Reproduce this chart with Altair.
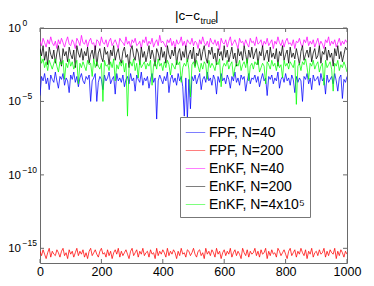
import altair as alt
import pandas as pd

# ---------------- data (log10 in tenths of a decade) ----------------
series_names = ["FPF, N=40", "FPF, N=200", "EnKF, N=40", "EnKF, N=200", "EnKF, N=4x10⁵"]
series_colors = ["#0000ff", "#ff0000", "#ff00ff", "#000000", "#00ff00"]

x_values = list(range(0, 1001, 5))

fpf40 = [
    -46, -33, -36, -31, -38, -34, -42, -32, -35, -37,
    -30, -36, -41, -33, -35, -31, -39, -34, -36, -44,
    -32, -35, -30, -37, -33, -40, -34, -31, -36, -38,
    -33, -35, -32, -50, -36, -34, -31, -50, -37, -33,
    -35, -42, -32, -36, -34, -30, -38, -35, -33, -45,
    -31, -36, -34, -37, -32, -40, -35, -33, -38, -31,
    -36, -34, -43, -32, -35, -37, -30, -39, -34, -36,
    -33, -41, -35, -31, -37, -34, -62, -36, -32, -35,
    -38, -33, -36, -30, -44, -35, -32, -37, -34, -39,
    -31, -36, -33, -40, -60, -34, -62, -35, -55, -33,
    -36, -32, -38, -34, -31, -42, -35, -33, -37, -30,
    -36, -34, -39, -32, -35, -45, -33, -37, -31, -36,
    -34, -38, -32, -35, -41, -33, -36, -30, -37, -34,
    -39, -32, -35, -33, -43, -36, -31, -38, -34, -35,
    -32, -37, -33, -40, -35, -31, -36, -34, -46, -33,
    -35, -32, -38, -34, -36, -30, -41, -35, -33, -37,
    -31, -36, -34, -39, -32, -35, -44, -33, -37, -34,
    -36, -50, -33, -35, -31, -38, -34, -42, -32, -36,
    -35, -33, -39, -31, -36, -34, -45, -32, -37, -35,
    -33, -38, -31, -36, -43, -34, -32, -48, -35, -37,
    -33,
]

fpf200 = [
    -152, -155, -151, -154, -157, -153, -150, -156, -152, -154,
    -155, -151, -153, -156, -152, -150, -155, -153, -157, -151,
    -154, -152, -156, -153, -150, -155, -152, -154, -151, -156,
    -153, -157, -152, -150, -155, -153, -151, -154, -156, -152,
    -150, -154, -153, -156, -151, -155, -152, -157, -153, -151,
    -154, -150, -156, -152, -155, -153, -151, -154, -157, -152,
    -150, -155, -153, -151, -156, -152, -154, -150, -155, -153,
    -152, -156, -151, -154, -153, -157, -150, -155, -152, -154,
    -151, -153, -156, -150, -155, -152, -154, -151, -153, -157,
    -152, -155, -150, -154, -153, -156, -151, -152, -155, -153,
    -150, -154, -156, -152, -151, -155, -153, -157, -150, -154,
    -152, -155, -151, -153, -156, -150, -154, -152, -157, -153,
    -151, -155, -152, -154, -150, -156, -153, -151, -155, -152,
    -154, -157, -150, -153, -155, -151, -156, -152, -154, -153,
    -150, -155, -152, -156, -151, -154, -153, -150, -157, -152,
    -155, -151, -154, -153, -156, -150, -152, -155, -153, -151,
    -154, -157, -152, -150, -155, -153, -151, -156, -152, -154,
    -150, -153, -155, -151, -157, -152, -154, -150, -156, -153,
    -152, -155, -151, -154, -153, -150, -156, -152, -155, -151,
    -153, -154, -150, -157, -152, -155, -151, -153, -156, -152,
    -154,
]

enkf40 = [
    -9, -12, -7, -10, -13, -8, -11, -6, -10, -12,
    -9, -14, -8, -11, -7, -10, -13, -9, -6, -11,
    -12, -8, -10, -14, -7, -9, -12, -5, -10, -11,
    -8, -13, -9, -7, -11, -10, -15, -8, -9, -12,
    -6, -10, -11, -8, -13, -9, -7, -12, -10, -8,
    -11, -14, -7, -9, -10, -12, -6, -11, -9, -13,
    -8, -10, -7, -12, -11, -9, -14, -8, -10, -6,
    -12, -9, -11, -7, -13, -10, -8, -12, -5, -10,
    -9, -11, -13, -8, -10, -7, -12, -9, -14, -8,
    -11, -10, -6, -12, -9, -13, -8, -10, -11, -7,
    -12, -9, -10, -14, -8, -11, -6, -10, -12, -9,
    -13, -7, -10, -11, -8, -12, -9, -15, -7, -10,
    -11, -8, -13, -9, -6, -12, -10, -8, -11, -14,
    -7, -10, -9, -12, -8, -11, -13, -7, -10, -9,
    -12, -6, -11, -10, -8, -13, -9, -11, -7, -12,
    -10, -8, -14, -9, -11, -6, -10, -12, -8, -13,
    -9, -7, -11, -10, -12, -8, -14, -9, -10, -7,
    -11, -13, -8, -10, -6, -12, -9, -11, -8, -13,
    -10, -7, -12, -9, -11, -14, -8, -10, -6, -12,
    -9, -11, -8, -13, -10, -7, -12, -9, -11, -8,
    -10,
]

enkf200 = [
    -14, -19, -12, -22, -16, -25, -13, -18, -21, -15,
    -24, -17, -12, -20, -26, -14, -19, -16, -23, -13,
    -18, -21, -15, -27, -12, -17, -20, -14, -22, -16,
    -19, -13, -24, -18, -15, -21, -12, -26, -17, -14,
    -20, -23, -13, -18, -16, -25, -15, -19, -12, -22,
    -17, -14, -21, -24, -16, -13, -20, -18, -27, -15,
    -12, -19, -22, -14, -17, -25, -13, -20, -16, -23,
    -18, -12, -21, -15, -19, -26, -14, -17, -22, -13,
    -20, -16, -24, -12, -18, -21, -15, -19, -13, -25,
    -17, -14, -22, -16, -20, -12, -23, -18, -15, -21,
    -13, -26, -17, -19, -14, -22, -16, -12, -20, -24,
    -15, -18, -13, -21, -17, -25, -14, -19, -16, -22,
    -12, -20, -15, -23, -18, -13, -21, -17, -26, -14,
    -19, -16, -22, -12, -18, -24, -15, -20, -13, -21,
    -17, -14, -25, -16, -19, -12, -22, -18, -15, -23,
    -13, -20, -17, -21, -14, -26, -16, -19, -12, -22,
    -18, -15, -24, -13, -20, -17, -21, -14, -19, -25,
    -16, -12, -22, -18, -15, -20, -13, -23, -17, -14,
    -21, -19, -12, -24, -16, -18, -13, -22, -15, -20,
    -17, -26, -14, -19, -12, -21, -16, -23, -18, -13,
    -15,
]

enkf4e5 = [
    -18, -24, -21, -27, -23, -29, -22, -25, -28, -24,
    -21, -26, -30, -23, -25, -22, -35, -24, -27, -21,
    -26, -23, -28, -25, -22, -38, -24, -27, -23, -26,
    -29, -22, -25, -24, -33, -21, -27, -23, -26, -28,
    -24, -50, -22, -26, -25, -29, -23, -27, -21, -36,
    -25, -28, -23, -26, -22, -30, -24, -60, -27, -23,
    -26, -21, -29, -24, -34, -22, -27, -25, -23, -28,
    -24, -26, -22, -39, -25, -23, -28, -21, -26, -24,
    -29, -23, -27, -22, -25, -32, -24, -26, -28, -22,
    -25, -23, -37, -27, -24, -26, -21, -28, -47, -25,
    -23, -27, -22, -26, -30, -24, -28, -23, -25, -35,
    -22, -27, -24, -26, -29, -23, -25, -21, -40, -27,
    -24, -26, -22, -28, -25, -23, -33, -27, -24, -26,
    -22, -29, -25, -23, -27, -21, -36, -26, -24, -28,
    -23, -25, -22, -30, -27, -24, -26, -38, -23, -25,
    -28, -22, -26, -24, -29, -23, -27, -25, -34, -22,
    -26, -24, -28, -23, -25, -27, -22, -52, -26, -24,
    -29, -23, -25, -21, -27, -35, -24, -26, -22, -28,
    -25, -23, -30, -26, -24, -39, -22, -27, -25, -23,
    -28, -43, -24, -26, -22, -29, -25, -27, -23, -26,
    -30,
]

x_tick_values = [0, 200, 400, 600, 800, 1000]
y_tick_values = [1e0, 1e-5, 1e-10, 1e-15]
y_tick_exponents = ["0", "−5", "−10", "−15"]
title_parts = ["|c−c", "true", "|"]

# ---------------- table ----------------
all_series = [fpf40, fpf200, enkf40, enkf200, enkf4e5]
rows = []
for name, vals in zip(series_names, all_series):
    for xv, t in zip(x_values, vals):
        rows.append({"x": xv, "value": 10 ** (t / 10.0), "series": name})
df = pd.DataFrame(rows)

W, H = 307, 235
FONT = "Liberation Sans"
FRAME = "#6a6a6a"

x_scale = alt.Scale(domain=[0, 1000], nice=False)
y_scale = alt.Scale(type="log", domain=[1e-16, 1], nice=False)
x_axis = alt.Axis(values=x_tick_values, format="d", ticks=False, domain=False, grid=False,
                  labelFontSize=12.5, labelFont=FONT, labelColor="black",
                  labelPadding=2, labelFlush=False, title=None)

color_enc = alt.Color(
    "series:N",
    scale=alt.Scale(domain=series_names, range=series_colors),
    legend=alt.Legend(orient="none", legendX=140, legendY=89, title=None,
                      symbolType="stroke", symbolSize=380, symbolStrokeWidth=1,
                      symbolOpacity=0.5,
                      labelFontSize=14, labelFont=FONT, labelColor="black",
                      labelLimit=300, labelOffset=3, padding=5, rowPadding=-0.5,
                      strokeColor="#777777", fillColor="white", symbolOffset=0),
)

base = alt.Chart(df)
lines = [
    base.transform_filter(alt.datum.series == name)
    .mark_line(strokeWidth=0.75, clip=True)
    .encode(
        x=alt.X("x:Q", scale=x_scale, axis=x_axis),
        y=alt.Y("value:Q", scale=y_scale, axis=None),
        color=color_enc,
    )
    for name in series_names
]

xt = alt.Chart(pd.DataFrame({"x": x_tick_values}))
bottom_ticks = xt.mark_rule(color=FRAME, strokeWidth=1).encode(
    x=alt.X("x:Q", scale=x_scale, axis=x_axis), y=alt.value(H), y2=alt.value(H - 4))
top_ticks = xt.mark_rule(color=FRAME, strokeWidth=1).encode(
    x=alt.X("x:Q", scale=x_scale, axis=x_axis), y=alt.value(0), y2=alt.value(4))

yt = alt.Chart(pd.DataFrame({"value": y_tick_values, "exp": y_tick_exponents}))
left_ticks = yt.mark_rule(color=FRAME, strokeWidth=1).encode(
    y=alt.Y("value:Q", scale=y_scale, axis=None), x=alt.value(0), x2=alt.value(4))
right_ticks = yt.mark_rule(color=FRAME, strokeWidth=1).encode(
    y=alt.Y("value:Q", scale=y_scale, axis=None), x=alt.value(W), x2=alt.value(W - 4))
y_label_base = yt.mark_text(align="right", baseline="middle", fontSize=11.5, font=FONT,
                            color="black", dy=1).encode(
    y=alt.Y("value:Q", scale=y_scale, axis=None), x=alt.value(-19), text=alt.value("10"))
y_label_exp = yt.mark_text(align="left", baseline="middle", fontSize=8.5, font=FONT,
                           color="black", dy=-5).encode(
    y=alt.Y("value:Q", scale=y_scale, axis=None), x=alt.value(-17.5), text="exp:N")

tt = alt.Chart(pd.DataFrame({"t": title_parts}))
title_main = tt.transform_filter(alt.datum.t == title_parts[0]).mark_text(
    align="right", baseline="alphabetic", fontSize=13.5, font=FONT, color="black").encode(
    x=alt.value(160), y=alt.value(-8), text="t:N")
title_sub = tt.transform_filter(alt.datum.t == title_parts[1]).mark_text(
    align="left", baseline="alphabetic", fontSize=9, font=FONT, color="black").encode(
    x=alt.value(160.5), y=alt.value(-4.5), text="t:N")
title_end = tt.transform_filter(alt.datum.t == title_parts[2]).mark_text(
    align="left", baseline="alphabetic", fontSize=13.5, font=FONT, color="black").encode(
    x=alt.value(175), y=alt.value(-8), text="t:N")

chart = alt.layer(
    *lines, bottom_ticks, top_ticks, left_ticks, right_ticks,
    y_label_base, y_label_exp, title_main, title_sub, title_end,
).properties(
    width=W, height=H,
    autosize=alt.AutoSizeParams(type="none"),
    padding={"left": 32, "top": 20, "right": 19, "bottom": 15},
    background="white",
).configure_view(stroke=FRAME, strokeWidth=1)

chart.save("out.html", embed_options={"renderer": "svg", "actions": False})
